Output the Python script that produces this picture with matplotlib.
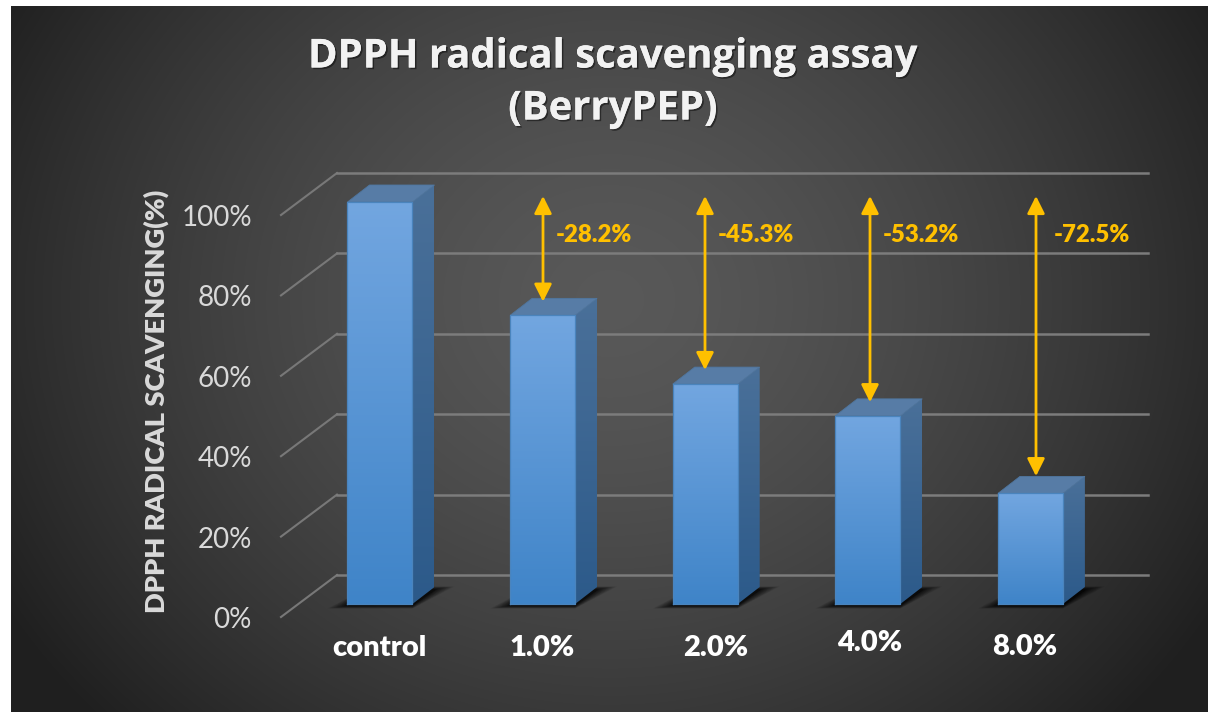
import numpy as np
import matplotlib
matplotlib.use('Agg')
import matplotlib.pyplot as plt
from matplotlib.patches import Polygon
import matplotlib.patheffects as pe

# Values
categories = ['control', '1.0%', '2.0%', '4.0%', '8.0%']
values = [100, 71.8, 54.7, 46.8, 27.5]
grid_values = [0, 20, 40, 60, 80, 100]
y_labels = ['0%', '20%', '40%', '60%', '80%', '100%']
arrow_bottoms = [75.2, 58.2, 50.2, 31.8]
arrow_tops = [101.5, 101.5, 101.5, 101.5]
drop_labels = ['-28.2%', '-45.3%', '-53.2%', '-72.5%']

W, H = 1208, 712
X0, SX = 380.0, 162.6    # pixel of category 0, pixels per category
Y0, SY = 604.0, 4.02     # pixel of 0%, pixels per percent
BAR_W = 65 / SX
DX, DY = 22 / SX, 17 / SY

plt.rcParams['font.family'] = ['Lato', 'DejaVu Sans']


def px(x, y):
    return (x - X0) / SX, (Y0 - y) / SY


fig = plt.figure(figsize=(W / 100, H / 100), dpi=100, facecolor='white')
ax = fig.add_axes([0, 0, 1, 1])
ax.axis('off')

# Background radial gradient
xx, yy = np.meshgrid(np.arange(11, W), np.arange(6, H))
r = np.sqrt(((xx - 610) / 640.0) ** 2 + ((yy - 300) / 560.0) ** 2)
bg = 0.35 - 0.195 * np.clip(r, 0, 1.1) ** 1.5
x_a, y_a = px(11, H)
x_b, y_b = px(W, 6)
ax.imshow(bg, extent=(x_a, x_b, y_a, y_b), origin='upper', cmap='gray', vmin=0, vmax=1,
          aspect='auto', zorder=0)

# Walls of the 3D grid
gx_left = px(281, 0)[0]
gx_wall = px(337, 0)[0]
gx_right = px(1148, 0)[0]
for g in grid_values:
    wall_y = g + 29 / SY
    ax.plot([gx_left, gx_wall], [g - 13 / SY, wall_y], color='#787878', lw=1.5, zorder=1)
    ax.plot([gx_wall, gx_right], [wall_y, wall_y], color='#7c7c7c', lw=1.8, zorder=1)


def gradient_poly(points, top_c, bot_c, z):
    pts = np.array(points)
    poly = Polygon(pts, closed=True, facecolor='none', edgecolor='none', zorder=z)
    ax.add_patch(poly)
    t = np.linspace(0, 1, 128).reshape(-1, 1, 1)
    img = (1 - t) * np.array(top_c).reshape(1, 1, 3) + t * np.array(bot_c).reshape(1, 1, 3)
    im = ax.imshow(img, extent=(pts[:, 0].min(), pts[:, 0].max(), pts[:, 1].min(), pts[:, 1].max()),
                   origin='upper', aspect='auto', zorder=z, interpolation='bilinear')
    im.set_clip_path(poly)


rgb = matplotlib.colors.to_rgb

for i, v in enumerate(values):
    left, right = i - BAR_W / 2, i + BAR_W / 2
    # soft shadow on the floor
    for grow in np.linspace(1, 0, 24):
        gx, gy = (20 * grow ** 1.5) / SX, (3.5 * grow) / SY
        ax.add_patch(Polygon([(left - gx, -gy - 1 / SY), (right, -gy - 1 / SY),
                              (right + DX + gx, DY - 3 / SY + gy),
                              (left + DX, DY - 3 / SY + gy)],
                             closed=True, facecolor='black', edgecolor='none', alpha=0.055, zorder=2))
    # side and top faces, then the front
    gradient_poly([(right, 0), (right + DX, DY), (right + DX, v + DY), (right, v)],
                  rgb('#4a7099'), rgb('#2c5a8a'), 3)
    ax.add_patch(Polygon([(left, v), (right, v), (right + DX, v + DY), (left + DX, v + DY)],
                         closed=True, facecolor='#577ca6', edgecolor='#4f769f', lw=0.6, zorder=3))
    gradient_poly([(left, 0), (right, 0), (right, v), (left, v)],
                  rgb('#72a6e0'), rgb('#3f84c8'), 4)
    ax.plot([left, left, right, right, left], [0, v, v, 0, 0], color='#4a84bd', lw=0.9, zorder=5)

# Arrows and their labels
for i, (b, t) in enumerate(zip(arrow_bottoms, arrow_tops)):
    x_arrow = [543, 705, 870, 1036][i]
    xd = px(x_arrow, 0)[0]
    ax.annotate('', xy=(xd, b), xytext=(xd, t), zorder=6,
                arrowprops=dict(arrowstyle='<|-|>,head_length=0.62,head_width=0.31', color='#FFC000',
                                lw=2.0, shrinkA=0, shrinkB=0, mutation_scale=17))
label_x = [594, 756, 921, 1092]
for lab, lx in zip(drop_labels, label_x):
    ax.text(*px(lx, 235), lab, color='#FFC000', fontsize=17.2, fontweight='heavy',
            ha='center', va='center', zorder=7)

# Axis labels
for lab, ly in zip(y_labels, [620, 540, 459, 379, 298, 218]):
    ax.text(*px(252, ly), lab, color='#d9d9d9', fontsize=20, ha='right', va='center', zorder=7)
cat_pos = [(379, 648), (542, 648), (716, 648), (870, 643), (1025, 647)]
for lab, (cx, cy) in zip(categories, cat_pos):
    ax.text(*px(cx, cy), lab, color='white', fontsize=21, fontweight='heavy',
            ha='center', va='center', zorder=7)
ax.text(*px(156, 401), 'DPPH RADICAL SCAVENGING(%)', color='#d9d9d9', fontsize=19.7, fontweight='heavy',
        rotation=90, ha='center', va='center', zorder=7)

# Title
shadow = [pe.withSimplePatchShadow(offset=(1.2, -1.2), shadow_rgbFace='black', alpha=0.45), pe.Normal()]
ax.text(*px(612.5, 57), 'DPPH radical scavenging assay', color='#f2f2f2', fontsize=28.8, fontweight='bold',
        family='Open Sans', ha='center', va='center', zorder=7, path_effects=shadow)
ax.text(*px(613, 109), '(BerryPEP)', color='#f2f2f2', fontsize=28.8, fontweight='bold',
        family='Open Sans', ha='center', va='center', zorder=7, path_effects=shadow)

ax.set_xlim(px(0, 0)[0], px(W, 0)[0])
ax.set_ylim(px(0, H)[1], px(0, 0)[1])

fig.savefig('out.png', dpi=100, facecolor='white')
plt.close(fig)
